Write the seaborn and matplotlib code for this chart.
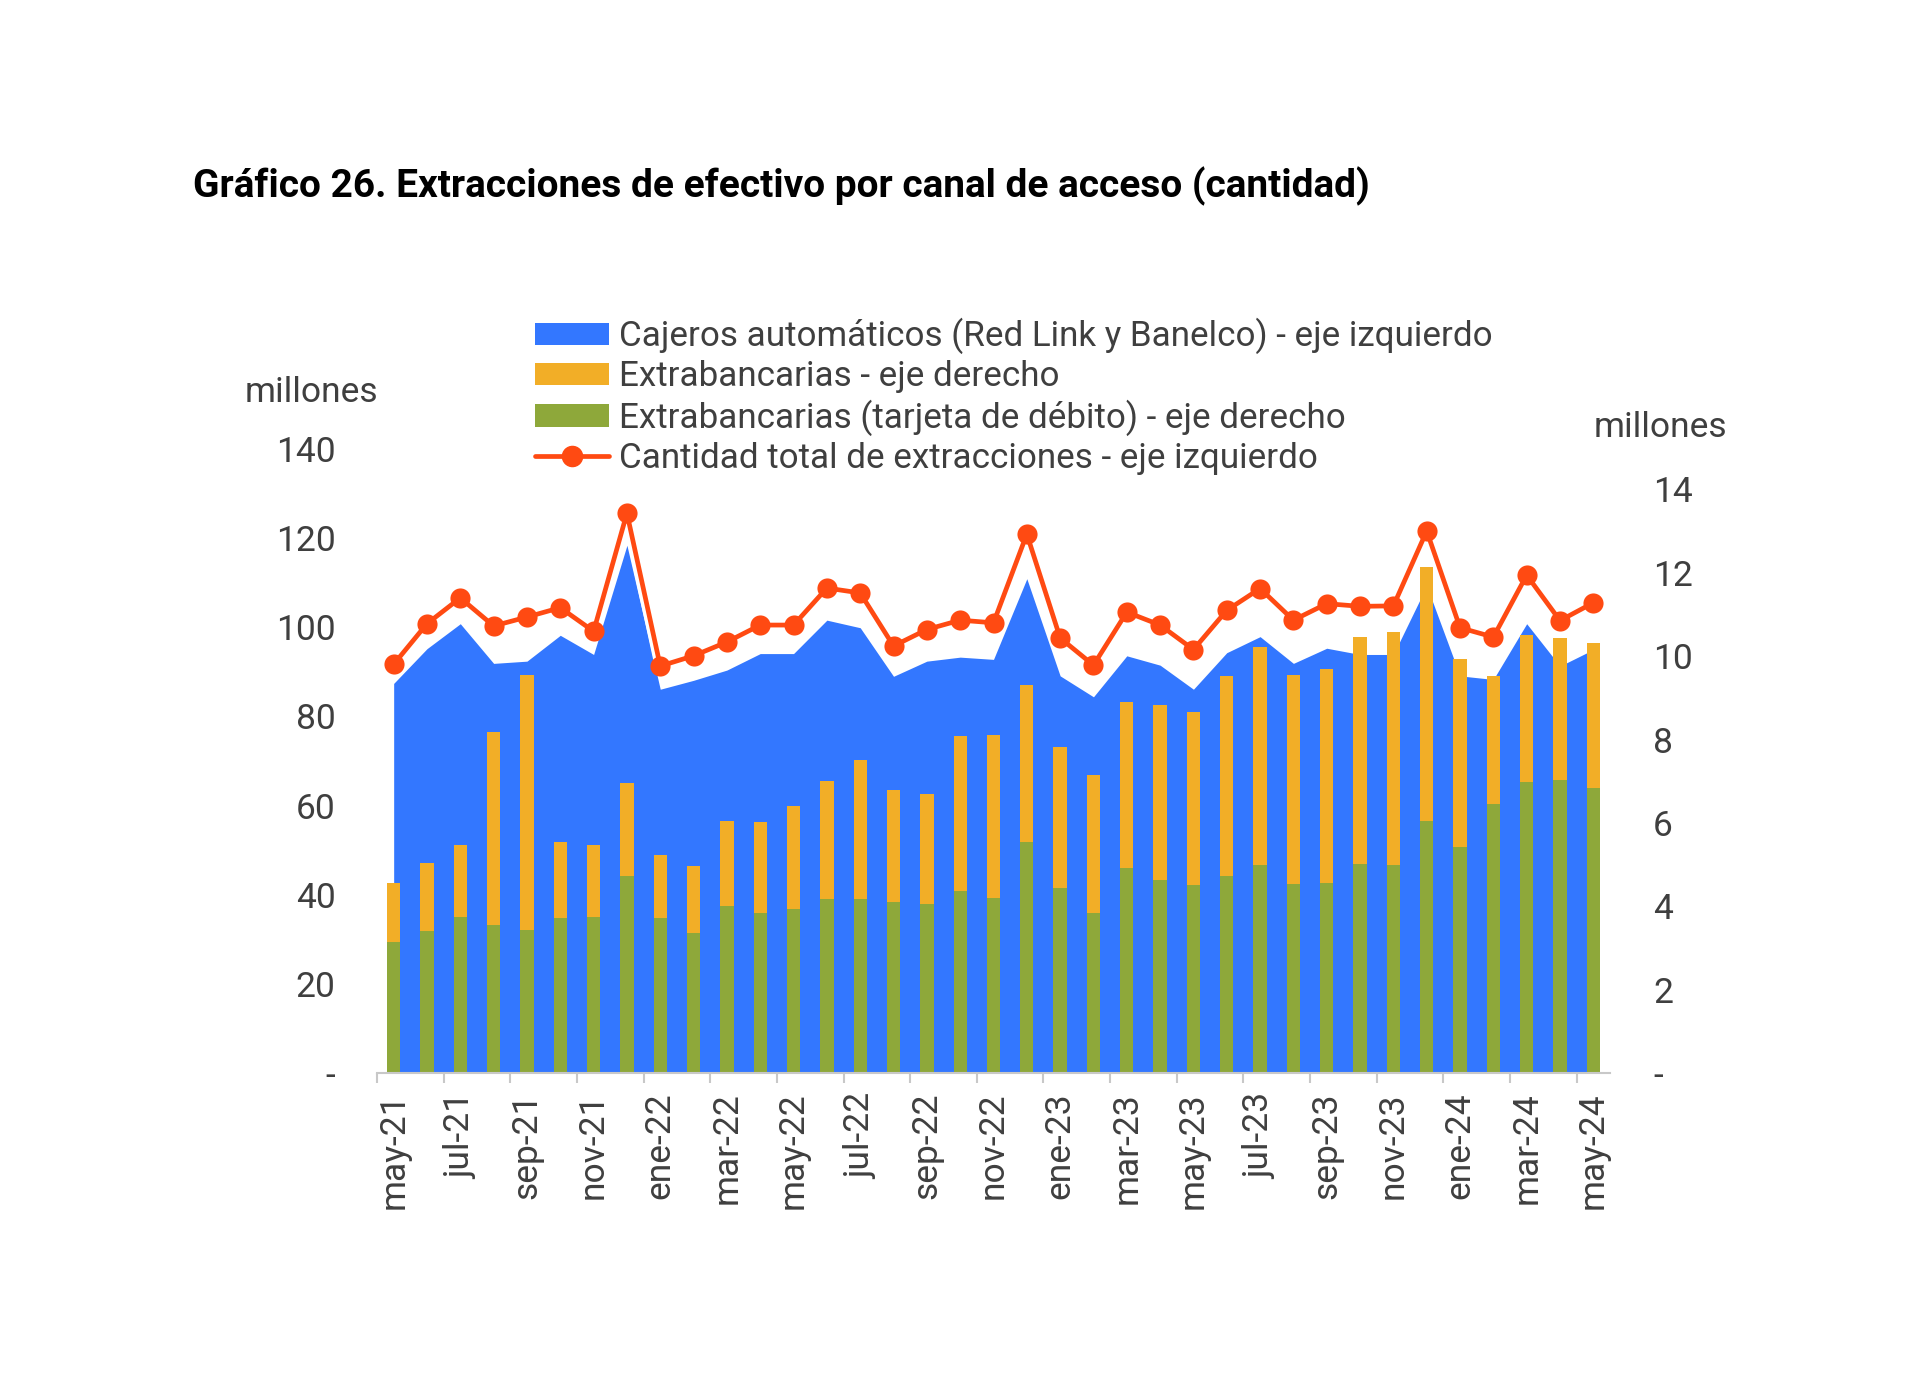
import matplotlib
matplotlib.use("Agg")
import matplotlib.pyplot as plt
import matplotlib.patheffects as pe
from matplotlib.patches import Patch
from matplotlib.lines import Line2D
from matplotlib.ticker import FixedLocator
import numpy as np
import pandas as pd
import seaborn as sns

# ---------------- data ----------------
months = ["may-21", "jun-21", "jul-21", "ago-21", "sep-21", "oct-21", "nov-21", "dic-21",
          "ene-22", "feb-22", "mar-22", "abr-22", "may-22", "jun-22", "jul-22", "ago-22",
          "sep-22", "oct-22", "nov-22", "dic-22", "ene-23", "feb-23", "mar-23", "abr-23",
          "may-23", "jun-23", "jul-23", "ago-23", "sep-23", "oct-23", "nov-23", "dic-23",
          "ene-24", "feb-24", "mar-24", "abr-24", "may-24"]

# Cajeros automáticos (Red Link y Banelco) - millones, eje izquierdo
cajeros = [87.4, 95.2, 100.8, 91.9, 92.4, 98.2, 93.9, 118.4,
           86.1, 88.1, 90.4, 94.1, 94.1, 101.6, 99.9, 89.0,
           92.4, 93.3, 92.8, 110.9, 89.1, 84.4, 93.6, 91.5,
           86.1, 94.3, 97.9, 91.9, 95.3, 93.9, 93.9, 109.3,
           89.1, 88.3, 100.8, 91.3, 95.0]

# Cantidad total de extracciones - millones, eje izquierdo
total = [91.7, 100.8, 106.6, 100.3, 102.3, 104.4, 99.1, 125.6,
         91.3, 93.6, 96.7, 100.5, 100.5, 108.8, 107.7, 95.8,
         99.5, 101.6, 101.0, 120.9, 97.6, 91.5, 103.4, 100.5,
         95.0, 103.8, 108.7, 101.6, 105.3, 104.7, 104.8, 121.6,
         99.9, 97.8, 111.7, 101.5, 105.5]

# Extrabancarias - millones, eje derecho
extrabancarias = [4.55, 5.03, 5.48, 8.17, 9.55, 5.54, 5.48, 6.95,
                  5.23, 4.97, 6.05, 6.03, 6.40, 7.01, 7.52, 6.79,
                  6.70, 8.08, 8.12, 9.30, 7.83, 7.16, 8.91, 8.84,
                  8.66, 9.53, 10.22, 9.55, 9.70, 10.47, 10.57, 12.13,
                  9.94, 9.53, 10.52, 10.43, 10.32]

# Extrabancarias (tarjeta de débito) - millones, eje derecho
extra_debito = [3.14, 3.40, 3.74, 3.54, 3.43, 3.72, 3.75, 4.72,
                3.71, 3.37, 4.00, 3.84, 3.93, 4.17, 4.17, 4.11,
                4.05, 4.37, 4.21, 5.55, 4.44, 3.84, 4.92, 4.63,
                4.51, 4.72, 5.00, 4.54, 4.55, 5.01, 4.99, 6.05,
                5.43, 6.46, 6.99, 7.04, 6.83]

left_ticks = [0, 20, 40, 60, 80, 100, 120, 140]
left_ticklabels = ["-", "20", "40", "60", "80", "100", "120", "140"]
right_ticks = [0, 2, 4, 6, 8, 10, 12, 14]
right_ticklabels = ["-", "2", "4", "6", "8", "10", "12", "14"]

labels = {
    "cajeros": "Cajeros automáticos (Red Link y Banelco) - eje izquierdo",
    "extra": "Extrabancarias - eje derecho",
    "debito": "Extrabancarias (tarjeta de débito) - eje derecho",
    "total": "Cantidad total de extracciones - eje izquierdo",
}
title = "Gráfico 26. Extracciones de efectivo por canal de acceso (cantidad)"

# ---------------- style ----------------
sns.set_theme(style="white")
plt.rcParams["font.family"] = ["Roboto", "DejaVu Sans"]

BLUE = "#3377FF"
ORANGE = "#F2AE27"
GREEN = "#8EA83A"
RED = "#FF4A12"
TXT = "#3f3f3f"
FS = 25.5

W, H = 1920, 1377
fig = plt.figure(figsize=(W / 100, H / 100), dpi=100)
fig.patch.set_facecolor("white")

ax_l, ax_r = 377 / W, 1610 / W
ax_b, ax_t = 1 - 1073 / H, 1 - 449 / H
ax = fig.add_axes([ax_l, ax_b, ax_r - ax_l, ax_t - ax_b])
ax2 = ax.twinx()
ax3 = ax.twinx()

df = pd.DataFrame({
    "mes": months,
    "idx": np.arange(len(months)),
    "cajeros": cajeros,
    "total": total,
    "extra": extrabancarias,
    "debito": extra_debito,
})

# area (left axis)
ax.fill_between(df["idx"], df["cajeros"], 0, color=BLUE, lw=0, zorder=1)

# bars (right axis)
sns.barplot(data=df, x="mes", y="extra", ax=ax2, color=ORANGE, width=0.4,
            saturation=1, order=months, linewidth=0, edgecolor="none")
sns.barplot(data=df, x="mes", y="debito", ax=ax2, color=GREEN, width=0.4,
            saturation=1, order=months, linewidth=0, edgecolor="none")

# total line (left scale, on top): line with white halo, then markers
sns.lineplot(data=df, x="idx", y="total", ax=ax3, color=RED, lw=3.4,
             path_effects=[pe.Stroke(linewidth=8, foreground="white"), pe.Normal()])
sns.lineplot(data=df, x="idx", y="total", ax=ax3, color=RED, lw=0,
             marker="o", markersize=14.5, markeredgewidth=0)

for a in (ax, ax2, ax3):
    a.set_xlim(-0.5, len(months) - 0.5)
    a.set_xlabel("")
    a.set_ylabel("")
    for s in a.spines.values():
        s.set_visible(False)
    a.grid(False)

ax.set_ylim(0, 140)
ax3.set_ylim(0, 140)
ax2.set_ylim(0, 14 * 509 / 476)

# left axis ticks
ax.set_yticks(left_ticks)
ax.set_yticklabels(left_ticklabels)
ax.tick_params(axis="y", length=0, pad=30, labelsize=FS, labelcolor=TXT)

# right axis ticks
ax2.set_yticks(right_ticks)
ax2.set_yticklabels(right_ticklabels)
ax2.tick_params(axis="y", length=0, pad=31, labelsize=FS, labelcolor=TXT)

ax3.set_yticks([])
ax3.tick_params(axis="both", length=0, labelbottom=False, labelleft=False, labelright=False)

# x axis on ax2 (bars axis draws the baseline)
ax2.xaxis.set_visible(True)
ax2.spines["bottom"].set_visible(True)
ax2.spines["bottom"].set_color("#C8C8C8")
ax2.spines["bottom"].set_linewidth(1.5)
ax2.set_xticks(range(0, len(months), 2))
ax2.set_xticklabels(months[::2], rotation=90)
ax2.xaxis.set_minor_locator(FixedLocator(np.arange(-0.5, len(months), 2)))
ax2.tick_params(axis="x", which="major", bottom=True, labelbottom=True, length=0, pad=14,
                labelsize=FS, labelcolor=TXT)
ax2.tick_params(axis="x", which="minor", bottom=True, length=7, width=1.5, color="#C8C8C8")
ax.tick_params(axis="x", which="both", length=0, labelbottom=False)

# unit labels
fig.text(311 / W, 1 - 392 / H, "millones", ha="center", va="center", fontsize=FS, color=TXT)
fig.text(1660 / W, 1 - 427 / H, "millones", ha="center", va="center", fontsize=FS, color=TXT)

# title
fig.text(193 / W, 1 - 186 / H, title, ha="left", va="center", fontsize=28,
         fontweight="bold", color="black")

# legend
handles = [
    Patch(facecolor=BLUE, edgecolor="none", label=labels["cajeros"]),
    Patch(facecolor=ORANGE, edgecolor="none", label=labels["extra"]),
    Patch(facecolor=GREEN, edgecolor="none", label=labels["debito"]),
    Line2D([0], [0], color=RED, lw=3.4, marker="o", markersize=14.5, label=labels["total"]),
]
leg = fig.legend(handles=handles, loc="upper left", bbox_to_anchor=(535 / W, 1 - 318 / H),
                 frameon=False, fontsize=25.2, handlelength=2.12, handleheight=0.62,
                 handletextpad=0.28, labelspacing=0.17, borderpad=0, borderaxespad=0)
for t in leg.get_texts():
    t.set_color(TXT)

fig.savefig("out.png", dpi=100, facecolor="white")
